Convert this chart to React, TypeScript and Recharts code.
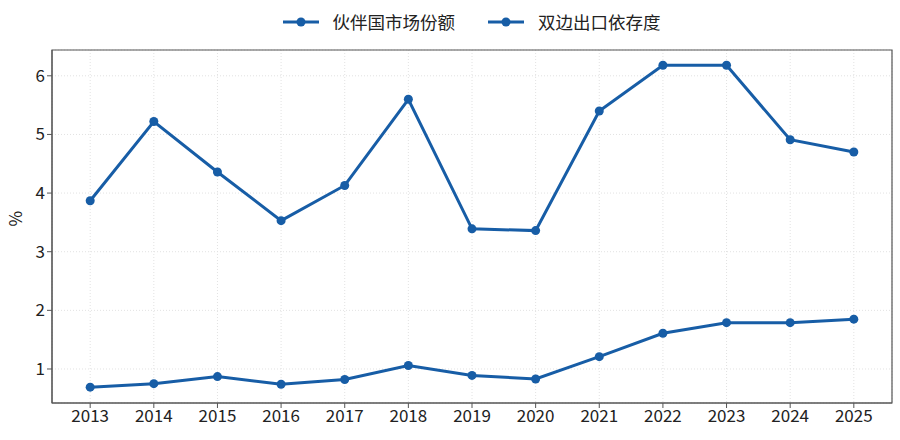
import React from 'react';
import {
  LineChart,
  Line,
  XAxis,
  YAxis,
  CartesianGrid,
  ReferenceArea,
} from 'recharts';

const years = [2013, 2014, 2015, 2016, 2017, 2018, 2019, 2020, 2021, 2022, 2023, 2024, 2025];
const marketShare = [0.69, 0.75, 0.87, 0.74, 0.82, 1.06, 0.89, 0.83, 1.21, 1.61, 1.79, 1.79, 1.85];
const exportDependence = [3.87, 5.22, 4.36, 3.53, 4.13, 5.6, 3.39, 3.36, 5.4, 6.18, 6.18, 4.91, 4.7];
const yTicks = [1, 2, 3, 4, 5, 6];
const seriesNames = ['伙伴国市场份额', '双边出口依存度'];

const BLUE = '#175da6';
const FONT = '"Noto Sans CJK SC", "Noto Sans", sans-serif';

const data = years.map((year, i) => ({
  year,
  share: marketShare[i],
  dependence: exportDependence[i],
}));

// legend drawn as plain html over the chart so it doesn't push the plot down
function LegendRow() {
  return (
    <div
      style={{
        position: 'absolute',
        top: 10,
        left: 42,
        width: 858,
        display: 'flex',
        justifyContent: 'center',
        fontFamily: FONT,
        fontSize: 17.5,
        color: '#222',
        lineHeight: '24px',
      }}
    >
      {seriesNames.map((name, i) => (
        <div key={name} style={{ display: 'flex', alignItems: 'center', marginLeft: i ? 32 : 0 }}>
          <svg width={38} height={12} style={{ marginRight: 13 }}>
            <line x1={1} y1={6} x2={37} y2={6} stroke={BLUE} strokeWidth={3} />
            <circle cx={19} cy={6} r={4.5} fill={BLUE} />
          </svg>
          <span>{name}</span>
        </div>
      ))}
    </div>
  );
}

export default function App() {
  const tickStyle = { fontSize: 17, fill: '#222', fontFamily: FONT };
  return (
    <div style={{ position: 'absolute', left: 0, top: 0, width: 900, height: 440, background: '#fff' }}>
      <LineChart
        width={900}
        height={440}
        data={data}
        margin={{ top: 50, right: 8, left: 12, bottom: 7 }}
      >
        <CartesianGrid stroke="#e2e2e2" strokeDasharray="1 2" />
        <XAxis
          dataKey="year"
          type="number"
          domain={[2012.4, 2025.6]}
          ticks={years}
          allowDataOverflow
          height={30}
          tickSize={5}
          tick={tickStyle}
          stroke="#555"
        />
        <YAxis
          domain={[0.42, 6.44]}
          ticks={yTicks}
          allowDataOverflow
          width={40}
          tickSize={5}
          tick={tickStyle}
          stroke="#555"
          label={{ value: '%', angle: -90, position: 'insideLeft', offset: 0, dx: 4, style: { fontSize: 17, fill: '#222', fontFamily: FONT } }}
        />
        <ReferenceArea x1={2012.4} x2={2025.6} y1={0.42} y2={6.44} fill="none" stroke="#555" strokeWidth={1.2} />
        <Line
          type="linear"
          dataKey="share"
          name={seriesNames[0]}
          stroke={BLUE}
          strokeWidth={3}
          dot={{ r: 4.5, fill: BLUE, stroke: BLUE, strokeWidth: 0 }}
          isAnimationActive={false}
        />
        <Line
          type="linear"
          dataKey="dependence"
          name={seriesNames[1]}
          stroke={BLUE}
          strokeWidth={3}
          dot={{ r: 4.5, fill: BLUE, stroke: BLUE, strokeWidth: 0 }}
          isAnimationActive={false}
        />
      </LineChart>
      <LegendRow />
    </div>
  );
}
